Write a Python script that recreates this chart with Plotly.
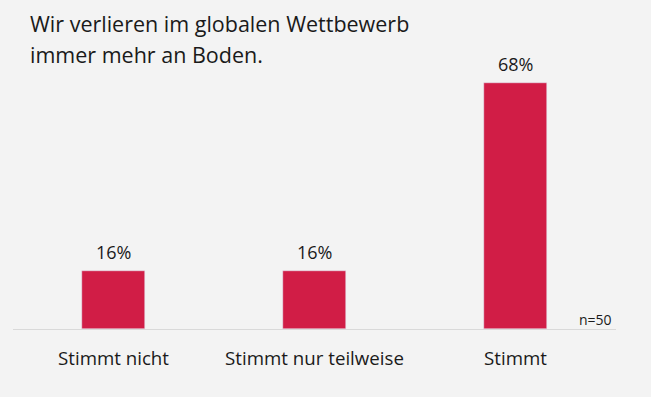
import plotly.graph_objects as go

categories = ["Stimmt nicht", "Stimmt nur teilweise", "Stimmt"]
values = [16, 16, 68]
value_labels = ["16%", "16%", "68%"]
title_lines = ["Wir verlieren im globalen Wettbewerb", "immer mehr an Boden."]
note_text = "n=50"

BG = "#F3F3F3"
BAR = "#D11D46"
FONT = "Open Sans"
TXT = "#1a1a1a"

fig = go.Figure()
fig.add_trace(go.Bar(
    x=categories, y=values, marker_color=BAR, width=0.313,
    hoverinfo="skip"))

for c, v, t in zip(categories, values, value_labels):
    fig.add_annotation(x=c, y=v, text=t, showarrow=False, yanchor="bottom",
                       yshift=5, font=dict(family=FONT, size=18, color=TXT))

fig.add_annotation(xref="paper", yref="paper", x=0.9967, y=0, xanchor="right", yanchor="bottom",
                   text=note_text, showarrow=False, yshift=-2,
                   font=dict(family=FONT, size=14, color=TXT))

for i, line in enumerate(title_lines):
    fig.add_annotation(xref="paper", yref="paper", x=(28 - 13) / 603,
                       y=(329 - 7 - 31 * i) / 289,
                       xanchor="left", yanchor="top", align="left", showarrow=False,
                       text=line, font=dict(family=FONT, size=21.5, color=TXT))

fig.update_layout(
    width=651, height=397,
    paper_bgcolor=BG, plot_bgcolor=BG,
    margin=dict(l=13, r=35, t=40, b=68),
    showlegend=False,
    bargap=0,
)
fig.update_xaxes(showline=True, linecolor="#D9D9D9", linewidth=1, ticks="",
                 tickfont=dict(family=FONT, size=18.7, color=TXT),
                 ticklabelstandoff=13, showgrid=False)
fig.update_yaxes(range=[0, 80], visible=False, showgrid=False, zeroline=False)

fig.write_html("out.html", config={"displayModeBar": False},
               post_script="document.body.style.margin='0';")
